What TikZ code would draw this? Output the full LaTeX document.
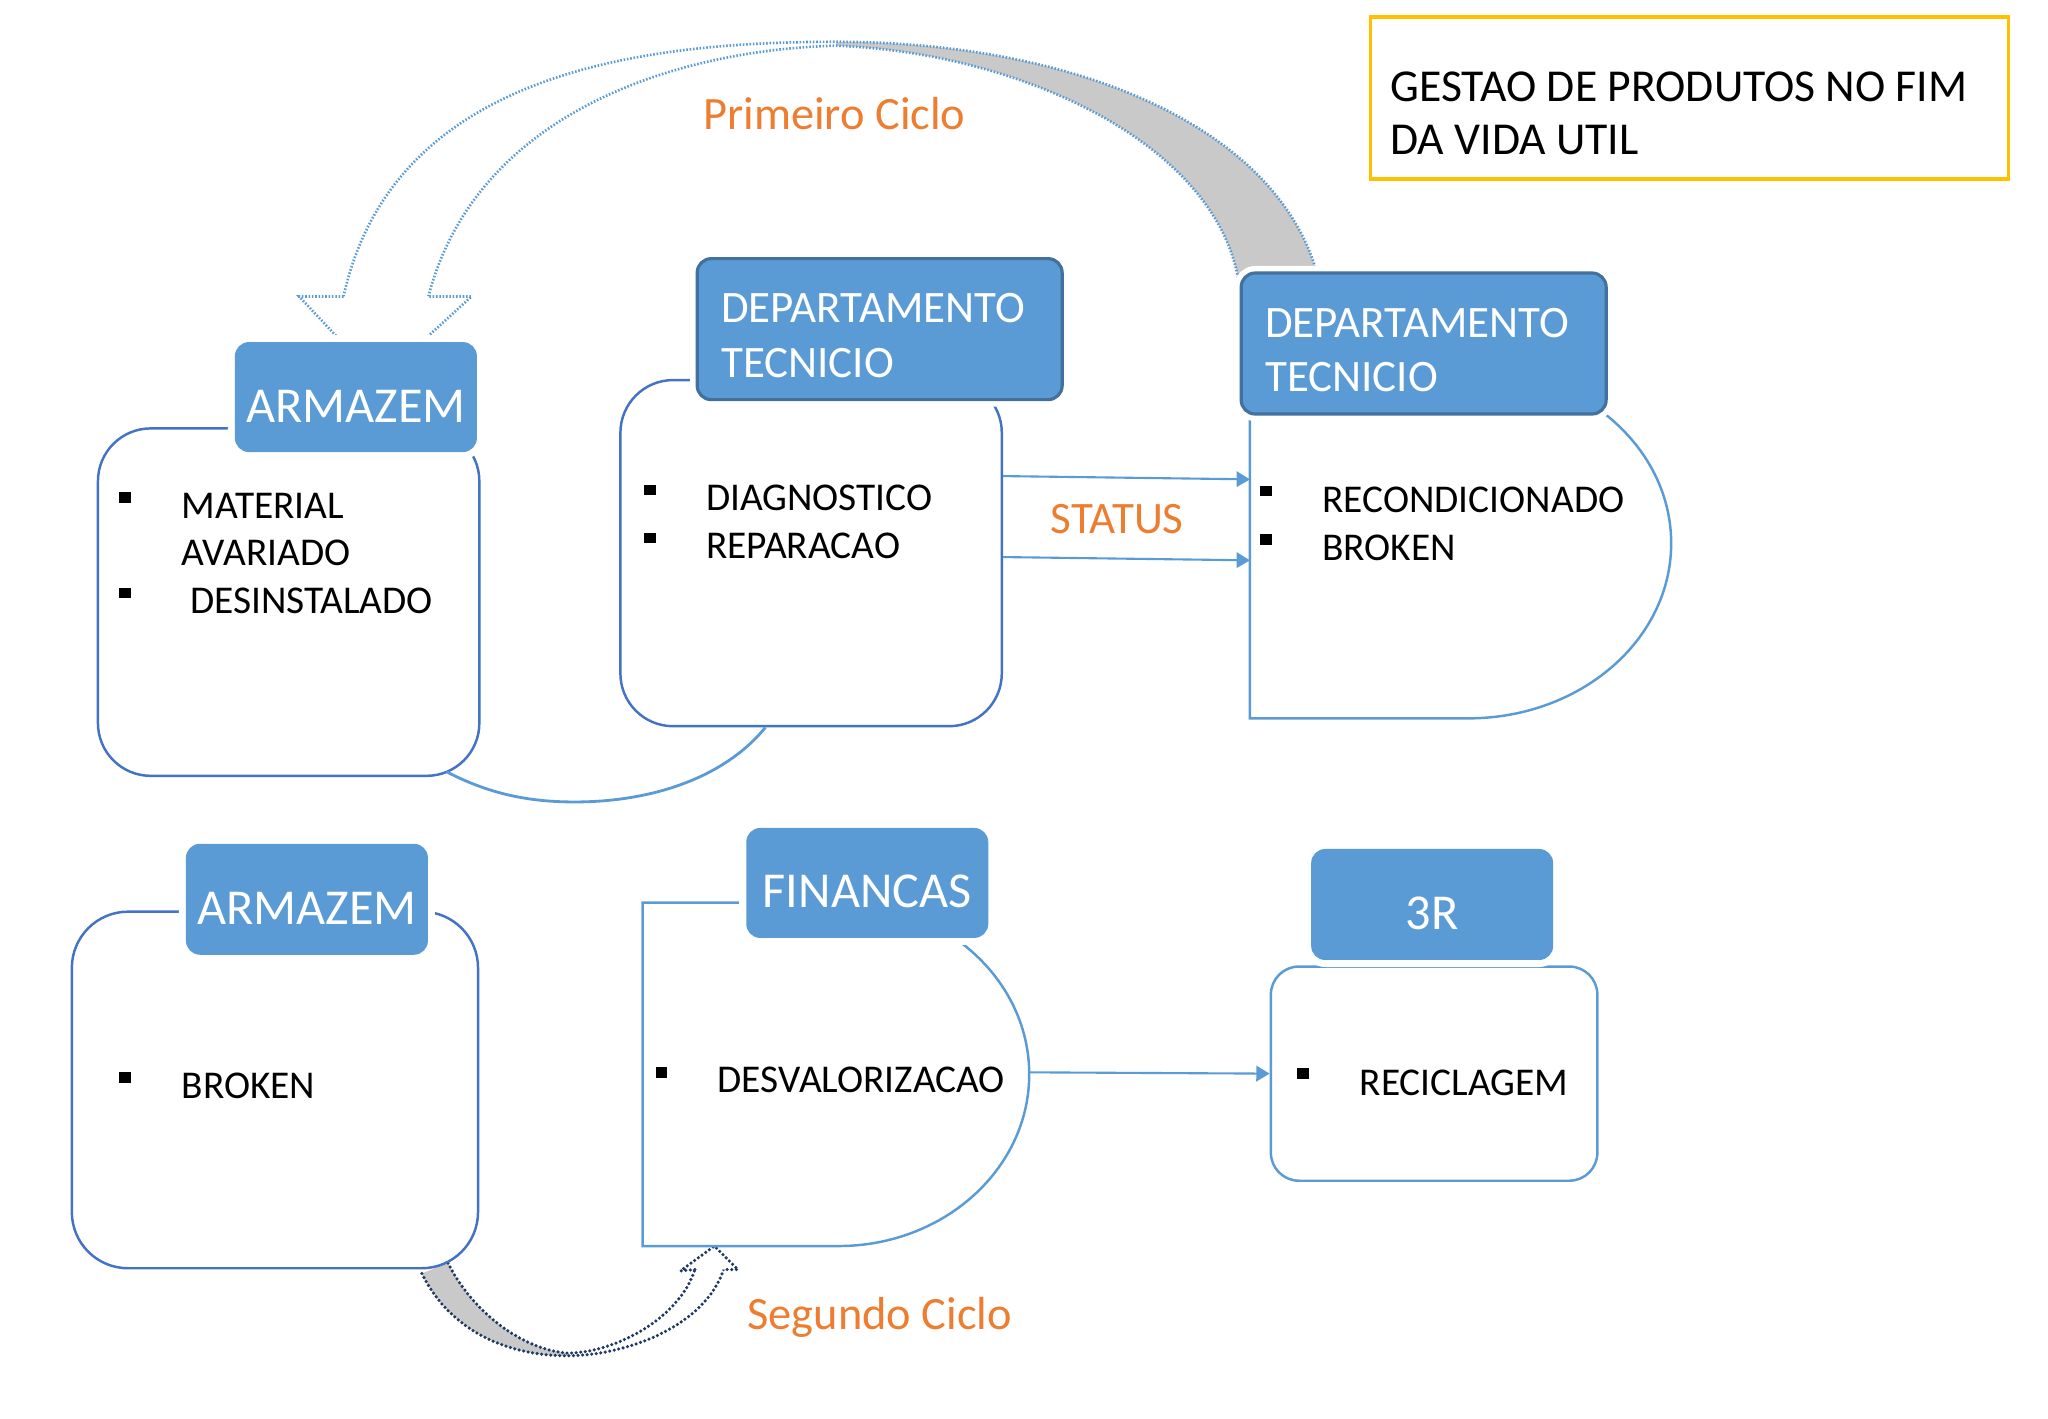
\documentclass[tikz,border=0pt]{standalone}
\usepackage{fontspec}
\setmainfont{Carlito}
\usetikzlibrary{arrows.meta, positioning, calc, fit}
\definecolor{headblue}{HTML}{5B9BD5}
\definecolor{headedge}{HTML}{41719C}
\definecolor{panelblue}{HTML}{4472C4}
\definecolor{linkblue}{HTML}{5B9BD5}
\definecolor{cycleorange}{HTML}{ED7D31}
\definecolor{notegold}{HTML}{FFC000}
\definecolor{ribbongray}{HTML}{C9C9C9}
\definecolor{ribbonnavy}{HTML}{203864}

\tikzset{
  headbox/.style={fill=headblue, text=white, rounded corners=4pt, inner sep=0pt,
    preaction={draw=white, line width=4pt}},
  head/.style={headbox, minimum width=2.42cm, minimum height=1.10cm,
    font=\fontsize{14.3}{17}\selectfont, text height=14.2pt, text depth=0pt},
  depthead/.style={headbox, draw=headedge, line width=0.9pt, minimum width=3.65cm,
    minimum height=1.41cm, text width=3.17cm, align=left, font=\fontsize{12.8}{15.6}\selectfont},
  panel/.style={draw=panelblue, line width=0.7pt, fill=white, rounded corners=15pt, inner sep=0pt},
  shapeline/.style={draw=linkblue, line width=0.7pt, fill=white},
  item/.style={font=\fontsize{11.2}{13}\selectfont, anchor=base west, inner sep=0pt},
  cyclelabel/.style={text=cycleorange, font=\fontsize{13.2}{15}\selectfont, anchor=base west, inner sep=0pt},
  link/.style={draw=linkblue, line width=0.6pt, -{Triangle[length=3.8pt, width=4.4pt]}},
  ribbon/.style={draw=linkblue, line width=0.75pt, dash pattern=on 0.45pt off 0.5pt},
  ribbonb/.style={draw=ribbonnavy, line width=1pt, line cap=round, dash pattern=on 0pt off 1.3pt},
  note/.style={draw=notegold, line width=0.9pt, inner sep=0pt},
  notetext/.style={font=\fontsize{13}{15}\selectfont, anchor=base west, inner sep=0pt}
}

\begin{document}
\begin{tikzpicture}[x=0.01306cm, y=-0.01306cm]
  \useasboundingbox (0,0) rectangle (1568,1086);

  % Primeiro ciclo ribbon
  \fill[ribbongray] (640,32) .. controls (820,32) and (975,95) .. (1008,208) -- (949,220) .. controls (935,110) and (780,40) .. (640,35) -- cycle;
  \draw[ribbon] (263,227) .. controls (300,60) and (480,32) .. (640,32) .. controls (820,32) and (975,95) .. (1008,208);
  \draw[ribbon] (328,227) .. controls (365,85) and (520,38) .. (640,35) .. controls (780,40) and (935,110) .. (949,220);
  \filldraw[ribbon, fill=white] (263,227) -- (229,227) -- (290,292) -- (361,227) -- (328,227);

  % Segundo ciclo ribbon
  \fill[ribbongray] (323,975) .. controls (345,1020) and (390,1038) .. (434,1038) -- (434,1036) .. controls (400,1033) and (362,1005) .. (343,967) -- cycle;
  \draw[ribbonb] (323,975) .. controls (345,1020) and (390,1038) .. (434,1038) .. controls (480,1038) and (540,1015) .. (554,972);
  \draw[ribbonb] (343,967) .. controls (362,1005) and (400,1033) .. (434,1036) .. controls (470,1036) and (520,1010) .. (532,972);
  \filldraw[ribbonb, fill=white] (532,972) -- (521,973) -- (547,954) -- (565,972) -- (554,972);

  % Panels
  \node[panel, fit={(75,328) (367,594)}] (armA) {};
  \node[panel, fit={(475,291) (767,556)}] (tecA) {};
  \node[panel, rounded corners=16pt, fit={(55,698) (366,971)}] (armB) {};
  \node[panel, draw=linkblue, rounded corners=8pt, fit={(973,740) (1223,904)}] (rrr) {};

  % D shapes
  \draw[shapeline] (957,282) -- (957,550) -- (1124,550) .. controls (1210,550) and (1279.5,490) .. (1279.5,416) .. controls (1279.5,342) and (1210,282) .. (1124,282) -- cycle;
  \draw[shapeline] (642,691) -- (492,691) -- (492,954) -- (642,954) .. controls (722.6,954) and (788,895) .. (788,822.5) .. controls (788,750) and (722.6,691) .. (642,691) -- cycle;

  % Link between the first two panels
  \coordinate (armAfoot) at ($(armA.south east)+(-26,-4)$);
  \coordinate (tecAfoot) at ($(tecA.south)+(-35,0)$);
  \draw[draw=linkblue, line width=0.8pt] (armAfoot) .. controls (375,608) and (405,614) .. (440,614) .. controls (500,614) and (555,595) .. (tecAfoot);

  % Header boxes
  \node[head] (armAh) at (272.5,304) {ARMAZEM};
  \node[depthead] (tecAh) at (673.5,252) {\rule{0pt}{12pt}DEPARTAMENTO\\TECNICIO};
  \node[depthead] (tecBh) at (1090,263) {\rule{0pt}{12pt}DEPARTAMENTO\\TECNICIO};
  \node[head, minimum height=1.11cm] (armBh) at (235,688.5) {ARMAZEM};
  \node[head] (finh) at (664,676) {FINANCAS};
  \node[head, minimum height=1.11cm] (rrrh) at (1096.5,692.5) {3R};

  % Bullets
  \foreach \x/\y in {91/377, 91/450, 493/371, 493/408, 965/372, 965/409, 91/821, 502/817, 993/818}
    \fill (\x,\y) rectangle ++(9,8);

  % Items
  \node[item] (armA1) at (138.6,397) {MATERIAL};
  \node[item] (armA2) at (138.6,433) {AVARIADO};
  \node[item] (armA3) at (145,469.6) {DESINSTALADO};
  \node[item] (tecA1) at (540,391) {DIAGNOSTICO};
  \node[item] (tecA2) at (540,427.5) {REPARACAO};
  \node[item] (tecB1) at (1012,392.5) {RECONDICIONADO};
  \node[item] (tecB2) at (1012,429.5) {BROKEN};
  \node[item] (armB1) at (138.6,841) {BROKEN};
  \node[item] (fin1) at (549,836.6) {DESVALORIZACAO};
  \node[item] (rrr1) at (1040.5,838.4) {RECICLAGEM};

  % Arrows
  \coordinate (statInA) at (957,367);
  \coordinate (statInB) at (957,429);
  \coordinate (finOut) at (788,821);
  \draw[link] ($(tecA.east)+(0,-59)$) -- (statInA);
  \draw[link] ($(tecA.east)+(0,3)$) -- (statInB);
  \draw[link] (finOut) -- (rrr.west);

  % Labels
  \node[cyclelabel] (first) at (538,99) {Primeiro Ciclo};
  \node[cyclelabel, font=\fontsize{12.8}{15}\selectfont] (status) at (804,408.4) {STATUS};
  \node[cyclelabel] (second) at (571.7,1018) {Segundo Ciclo};

  % Note box
  \node[note, fit={(1049,13) (1538,137)}] (goal) {};
  \node[notetext] (goalA) at (1064,78) {GESTAO DE PRODUTOS NO FIM};
  \node[notetext] (goalB) at (1064,118) {DA VIDA UTIL};
\end{tikzpicture}
\end{document}
